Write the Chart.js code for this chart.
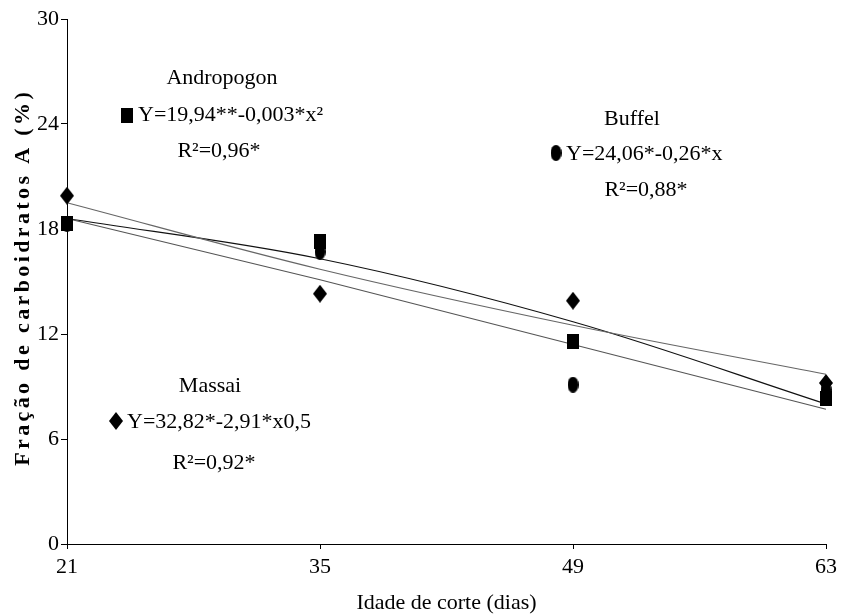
<!DOCTYPE html>
<html><head><meta charset="utf-8">
<script src="https://cdn.jsdelivr.net/npm/chart.js@4/dist/chart.umd.min.js"></script>
<style>html,body{margin:0;padding:0;background:#fff;}#wrap{width:842px;height:614px;}</style>
</head><body><div id="wrap"><canvas id="c" width="842" height="614"></canvas></div>
<script>
// ---- data ----
const days = [21, 35, 49, 63];
const andropogon = [18.3, 17.3, 11.6, 8.3];
const buffel = [18.3, 16.7, 9.1, 8.8];
const massai = [19.9, 14.3, 13.9, 9.2];
// regression lines at the tick days
const andropogonFit = [18.6, 16.3, 12.7, 8.0];
const massaiFit = [19.5, 15.7, 12.5, 9.7];
const buffelFit = [18.6, 15.1, 11.4, 7.7];
const xTicks = [21, 35, 49, 63];
const yTicks = [0, 6, 12, 18, 24, 30];
const xTitle = 'Idade de corte (dias)';
const yTitle = 'Fração de carboidratos A (%)';
const notes = [
  {name: 'Andropogon', eq: 'Y=19,94**-0,003*x²', r2: 'R²=0,96*'},
  {name: 'Buffel', eq: 'Y=24,06*-0,26*x', r2: 'R²=0,88*'},
  {name: 'Massai', eq: 'Y=32,82*-2,91*x0,5', r2: 'R²=0,92*'}
];

const FONT = '"Liberation Serif", "Times New Roman", serif';

function marker(shape, w, h) {
  const c = document.createElement('canvas');
  c.width = w; c.height = h;
  const g = c.getContext('2d');
  g.fillStyle = '#000';
  g.beginPath();
  if (shape === 'diamond') {
    g.moveTo(w / 2, 0); g.lineTo(w, h / 2); g.lineTo(w / 2, h); g.lineTo(0, h / 2); g.closePath();
  } else if (shape === 'square') {
    g.rect(0, 0, w, h);
  } else {
    g.ellipse(w / 2, h / 2, w / 2, h / 2, 0, 0, Math.PI * 2);
  }
  g.fill();
  return c;
}
const mSquare = marker('square', 12, 15);
const mCircle = marker('circle', 11, 16);
const mDiamond = marker('diamond', 14, 18);

const pts = (ys) => days.map((d, i) => ({x: d, y: ys[i]}));

const annot = {
  id: 'annot',
  afterDraw(chart) {
    const ctx = chart.ctx;
    ctx.save();
    ctx.fillStyle = '#000';
    ctx.font = '22px ' + FONT;
    ctx.textBaseline = 'middle';
    const blocks = [
      {n: notes[0], m: mSquare, name: [222, 78], eq: [138, 115], mk: [127, 115], r2: [219, 151]},
      {n: notes[1], m: mCircle, name: [632, 119], eq: [566, 154], mk: [556, 153], r2: [646, 190]},
      {n: notes[2], m: mDiamond, name: [210, 386], eq: [127, 422], mk: [116, 421], r2: [214, 463]}
    ];
    blocks.forEach(b => {
      ctx.textAlign = 'center';
      ctx.fillText(b.n.name, b.name[0], b.name[1]);
      ctx.fillText(b.n.r2, b.r2[0], b.r2[1]);
      ctx.textAlign = 'left';
      ctx.fillText(b.n.eq, b.eq[0], b.eq[1]);
      ctx.drawImage(b.m, b.mk[0] - b.m.width / 2, b.mk[1] - b.m.height / 2);
    });
    // y-axis title with slightly spaced letters
    ctx.font = 'bold 22px ' + FONT;
    const target = 377;
    ctx.letterSpacing = '0px';
    const w0 = ctx.measureText(yTitle).width;
    const sp = Math.max(0, (target - w0) / yTitle.length);
    ctx.letterSpacing = sp.toFixed(2) + 'px';
    ctx.translate(23, 279);
    ctx.rotate(-Math.PI / 2);
    ctx.textAlign = 'center';
    ctx.fillText(yTitle, sp / 2, 0);
    ctx.restore();
  }
};

new Chart(document.getElementById('c'), {
  type: 'scatter',
  data: {
    datasets: [
      {label: 'Buffel', data: pts(buffel), pointStyle: mCircle, pointRadius: 6, showLine: false, clip: false, order: 3},
      {label: 'Andropogon', data: pts(andropogon), pointStyle: mSquare, pointRadius: 6, showLine: false, clip: false, order: 2},
      {label: 'Massai', data: pts(massai), pointStyle: mDiamond, pointRadius: 7, showLine: false, clip: false, order: 1},
      {label: 'Andropogon fit', data: pts(andropogonFit), showLine: true, pointRadius: 0, borderColor: '#111', borderWidth: 1.2, tension: 0.35, clip: false, order: 6},
      {label: 'Massai fit', data: pts(massaiFit), showLine: true, pointRadius: 0, borderColor: '#666', borderWidth: 1.2, tension: 0.35, clip: false, order: 5},
      {label: 'Buffel fit', data: pts(buffelFit), showLine: true, pointRadius: 0, borderColor: '#555', borderWidth: 1.2, tension: 0, clip: false, order: 4}
    ]
  },
  options: {
    responsive: false,
    animation: false,
    events: [],
    layout: {padding: {left: 0, right: 13, top: 19, bottom: 0}},
    plugins: {legend: {display: false}, tooltip: {enabled: false}},
    scales: {
      x: {
        type: 'linear', min: 21, max: 63,
        afterBuildTicks: (s) => { s.ticks = xTicks.map(v => ({value: v})); },
        afterFit: (s) => { s.height = 70; },
        grid: {display: true, drawOnChartArea: false, drawTicks: true, tickLength: 5, color: '#000'},
        border: {display: true, color: '#000', width: 1},
        ticks: {color: '#000', font: {family: FONT, size: 22}, padding: 5, maxRotation: 0, autoSkip: false},
        title: {display: true, text: xTitle, color: '#000', font: {family: FONT, size: 22, lineHeight: 1}, padding: {top: 0, bottom: 0}}
      },
      y: {
        type: 'linear', min: 0, max: 30,
        afterBuildTicks: (s) => { s.ticks = yTicks.map(v => ({value: v})); },
        afterFit: (s) => { s.width = 67; },
        grid: {display: true, drawOnChartArea: false, drawTicks: true, tickLength: 6, color: '#000'},
        border: {display: true, color: '#000', width: 1},
        ticks: {color: '#000', font: {family: FONT, size: 22}, padding: 2, autoSkip: false}
      }
    }
  },
  plugins: [annot]
});
</script>
</body></html>
